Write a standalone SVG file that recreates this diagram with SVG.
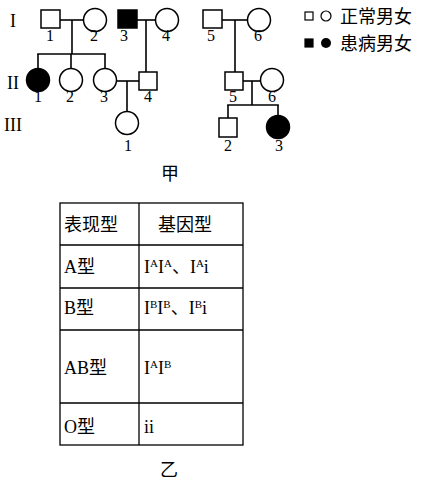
<svg xmlns="http://www.w3.org/2000/svg" width="422" height="489" viewBox="0 0 422 489">
<style>
.s{fill:#fff;stroke:#000;stroke-width:1.5}
.f{fill:#000;stroke:#000;stroke-width:1.5}
.ln{stroke:#000;stroke-width:1.6;fill:none}
.n{font-family:"Liberation Serif","Times New Roman",serif;font-size:16px;text-anchor:middle;fill:#000}
.g{font-family:"Liberation Serif","Times New Roman",serif;font-size:18px;text-anchor:middle;fill:#000}
.c{font-family:"Liberation Serif","Noto Sans CJK SC",serif;font-size:18px;fill:#000}
.t{stroke:#000;stroke-width:1.3;fill:none}
.sup{font-size:11px}
</style>
<rect width="422" height="489" fill="#fff"/>
<g id="connectors" class="ln">
<line x1="60" y1="20" x2="83.5" y2="20"/>
<line x1="72" y1="20" x2="72" y2="54"/>
<line x1="37.2" y1="54" x2="105.8" y2="54"/>
<line x1="38" y1="54" x2="38" y2="68.5"/>
<line x1="71" y1="54" x2="71" y2="68.5"/>
<line x1="105" y1="54" x2="105" y2="68.5"/>
<line x1="137" y1="20" x2="155.5" y2="20"/>
<line x1="146" y1="20" x2="146" y2="72"/>
<line x1="116.5" y1="81" x2="139" y2="81"/>
<line x1="127" y1="81" x2="127" y2="111.5"/>
<line x1="222" y1="20" x2="247.5" y2="20"/>
<line x1="235" y1="20" x2="235" y2="72"/>
<line x1="243" y1="81" x2="260.5" y2="81"/>
<line x1="252" y1="81" x2="252" y2="105"/>
<line x1="227.2" y1="105" x2="278.8" y2="105"/>
<line x1="228" y1="105" x2="228" y2="118"/>
<line x1="278" y1="105" x2="278" y2="115.5"/>
</g>
<g id="I-1"><rect class="s" x="41" y="10" width="19" height="18"/><text class="n" x="50" y="41">1</text></g>
<g id="I-2"><circle class="s" cx="95" cy="20" r="11.5"/><text class="n" x="94" y="41">2</text></g>
<g id="I-3"><rect class="f" x="118" y="10" width="19" height="18"/><text class="n" x="124" y="41">3</text></g>
<g id="I-4"><circle class="s" cx="167" cy="20" r="11.5"/><text class="n" x="166" y="41">4</text></g>
<g id="I-5"><rect class="s" x="203" y="10" width="19" height="18"/><text class="n" x="211" y="41">5</text></g>
<g id="I-6"><circle class="s" cx="259" cy="20" r="11.5"/><text class="n" x="258" y="41">6</text></g>
<g id="II-1"><circle class="f" cx="38" cy="80" r="11.5"/><text class="n" x="38" y="102">1</text></g>
<g id="II-2"><circle class="s" cx="71" cy="80" r="11.5"/><text class="n" x="70" y="102">2</text></g>
<g id="II-3"><circle class="s" cx="105" cy="80" r="11.5"/><text class="n" x="104" y="102">3</text></g>
<g id="II-4"><rect class="s" x="139" y="72" width="18" height="18"/><text class="n" x="148" y="102">4</text></g>
<g id="II-5"><rect class="s" x="225" y="72" width="18" height="18"/><text class="n" x="233" y="102">5</text></g>
<g id="II-6"><circle class="s" cx="272" cy="80" r="11.5"/><text class="n" x="272" y="102">6</text></g>
<g id="III-1"><circle class="s" cx="127" cy="123" r="11.5"/><text class="n" x="128" y="151">1</text></g>
<g id="III-2"><rect class="s" x="219" y="118" width="18" height="19"/><text class="n" x="228" y="151">2</text></g>
<g id="III-3"><circle class="f" cx="278" cy="127" r="11.5"/><text class="n" x="279" y="151">3</text></g>
<g id="gen-labels">
<text class="g" x="13" y="27">I</text>
<text class="g" x="13" y="89">II</text>
<text class="g" x="13" y="131">III</text>
</g>
<g id="legend">
<rect x="305" y="12" width="8" height="8" fill="#fff" stroke="#000" stroke-width="1.2"/>
<circle cx="326" cy="16" r="5" fill="#fff" stroke="#000" stroke-width="1.2"/>
<text class="c" x="340" y="23" textLength="72">正常男女</text>
<rect x="305" y="39" width="8" height="8" fill="#000" stroke="#000" stroke-width="1.2"/>
<circle cx="326" cy="43" r="5" fill="#000"/>
<text class="c" x="340" y="50" textLength="72">患病男女</text>
</g>
<text id="jia" class="c" x="170" y="180" text-anchor="middle">甲</text>
<g id="table">
<rect class="t" x="60" y="203" width="183" height="242"/>
<line class="t" x1="139" y1="203" x2="139" y2="445"/>
<line class="t" x1="60" y1="245" x2="243" y2="245"/>
<line class="t" x1="60" y1="288" x2="243" y2="288"/>
<line class="t" x1="60" y1="330" x2="243" y2="330"/>
<line class="t" x1="60" y1="403" x2="243" y2="403"/>
<text class="c" x="64" y="231">表现型</text>
<text class="c" x="158" y="231">基因型</text>
<text class="c" x="64" y="273">A型</text>
<text class="c" x="144" y="273">I<tspan class="sup" dy="-6">A</tspan><tspan dy="6">I</tspan><tspan class="sup" dy="-6">A</tspan><tspan dy="6">、I</tspan><tspan class="sup" dy="-6">A</tspan><tspan dy="6">i</tspan></text>
<text class="c" x="64" y="314">B型</text>
<text class="c" x="144" y="314">I<tspan class="sup" dy="-6">B</tspan><tspan dy="6">I</tspan><tspan class="sup" dy="-6">B</tspan><tspan dy="6">、I</tspan><tspan class="sup" dy="-6">B</tspan><tspan dy="6">i</tspan></text>
<text class="c" x="64" y="374">AB型</text>
<text class="c" x="144" y="374">I<tspan class="sup" dy="-6">A</tspan><tspan dy="6">I</tspan><tspan class="sup" dy="-6">B</tspan></text>
<text class="c" x="64" y="433">O型</text>
<text class="c" x="144" y="433">ii</text>
</g>
<text id="yi" class="c" x="169" y="476" text-anchor="middle">乙</text>
</svg>
